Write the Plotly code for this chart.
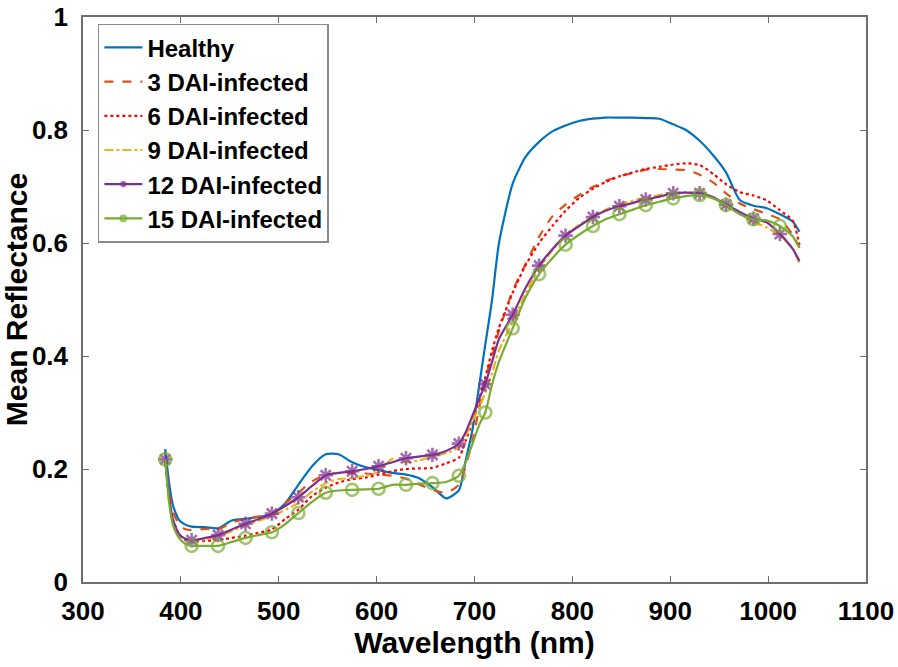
import plotly.graph_objects as go

wavelength = [384, 388, 392, 398, 404, 411, 425, 438, 452, 466, 479, 493, 507, 520, 534, 548, 561, 575,
              589, 602, 616, 630, 643, 657, 671, 684, 691, 698, 705, 711, 718, 725, 739, 752, 766, 780,
              793, 807, 821, 834, 848, 862, 875, 889, 903, 916, 930, 944, 957, 971, 985, 998, 1012, 1025, 1032]

marker_wavelengths = [384, 411, 438, 466, 493, 520, 548, 575, 602, 630, 657, 684, 711, 739, 766, 793,
                      821, 848, 875, 903, 930, 957, 985, 1012]

healthy = [0.235, 0.175, 0.135, 0.110, 0.102, 0.098, 0.097, 0.095, 0.109, 0.112, 0.115, 0.120, 0.140, 0.172,
           0.205, 0.226, 0.226, 0.212, 0.203, 0.198, 0.193, 0.190, 0.184, 0.168, 0.148, 0.162, 0.215, 0.270,
           0.350, 0.420, 0.500, 0.600, 0.705, 0.752, 0.779, 0.798, 0.808, 0.816, 0.820, 0.822, 0.822, 0.822,
           0.821, 0.820, 0.810, 0.800, 0.781, 0.755, 0.725, 0.676, 0.666, 0.662, 0.651, 0.638, 0.620]

dai3 = [0.217, 0.160, 0.125, 0.102, 0.094, 0.092, 0.094, 0.093, 0.105, 0.112, 0.116, 0.121, 0.140, 0.158,
        0.178, 0.190, 0.193, 0.193, 0.192, 0.190, 0.188, 0.183, 0.173, 0.163, 0.158, 0.172, 0.205, 0.250,
        0.310, 0.360, 0.400, 0.445, 0.515, 0.562, 0.611, 0.648, 0.668, 0.685, 0.699, 0.710, 0.718, 0.724,
        0.730, 0.731, 0.730, 0.729, 0.721, 0.707, 0.688, 0.670, 0.660, 0.652, 0.642, 0.615, 0.592]

dai6 = [0.217, 0.150, 0.110, 0.085, 0.075, 0.072, 0.073, 0.074, 0.078, 0.082, 0.087, 0.093, 0.112, 0.128,
        0.152, 0.167, 0.176, 0.182, 0.185, 0.190, 0.196, 0.200, 0.201, 0.202, 0.210, 0.220, 0.250, 0.283,
        0.325, 0.362, 0.410, 0.450, 0.512, 0.560, 0.600, 0.631, 0.657, 0.680, 0.696, 0.708, 0.718, 0.725,
        0.731, 0.735, 0.739, 0.741, 0.738, 0.722, 0.704, 0.690, 0.684, 0.676, 0.658, 0.640, 0.597]

dai9 = [0.217, 0.145, 0.105, 0.082, 0.075, 0.072, 0.076, 0.080, 0.090, 0.100, 0.108, 0.117, 0.128, 0.140,
        0.160, 0.175, 0.182, 0.184, 0.188, 0.195, 0.218, 0.212, 0.215, 0.222, 0.228, 0.238, 0.258, 0.285,
        0.310, 0.335, 0.370, 0.410, 0.460, 0.510, 0.555, 0.588, 0.613, 0.632, 0.648, 0.659, 0.668, 0.675,
        0.680, 0.685, 0.689, 0.690, 0.688, 0.680, 0.665, 0.652, 0.637, 0.628, 0.613, 0.590, 0.564]

dai12 = [0.217, 0.150, 0.110, 0.085, 0.077, 0.074, 0.078, 0.083, 0.093, 0.103, 0.111, 0.121, 0.135, 0.150,
         0.170, 0.189, 0.193, 0.196, 0.200, 0.205, 0.212, 0.219, 0.222, 0.225, 0.232, 0.245, 0.265, 0.295,
         0.325, 0.350, 0.390, 0.430, 0.473, 0.520, 0.560, 0.590, 0.613, 0.630, 0.646, 0.657, 0.665, 0.671,
         0.677, 0.682, 0.688, 0.689, 0.688, 0.681, 0.668, 0.655, 0.643, 0.637, 0.616, 0.590, 0.568]

dai15 = [0.217, 0.140, 0.100, 0.078, 0.068, 0.064, 0.064, 0.064, 0.071, 0.078, 0.083, 0.088, 0.103, 0.122,
         0.142, 0.158, 0.162, 0.163, 0.164, 0.165, 0.172, 0.172, 0.174, 0.175, 0.177, 0.188, 0.212, 0.245,
         0.279, 0.300, 0.350, 0.390, 0.449, 0.503, 0.545, 0.574, 0.597, 0.615, 0.630, 0.642, 0.651, 0.659,
         0.667, 0.673, 0.679, 0.683, 0.685, 0.679, 0.667, 0.651, 0.642, 0.640, 0.630, 0.612, 0.591]

series_names = ["Healthy", "3 DAI-infected", "6 DAI-infected", "9 DAI-infected", "12 DAI-infected", "15 DAI-infected"]
series_values = [healthy, dai3, dai6, dai9, dai12, dai15]

x_ticks = [300, 400, 500, 600, 700, 800, 900, 1000, 1100]
y_ticks = [0, 0.2, 0.4, 0.6, 0.8, 1]
y_ticklabels = ["0", "0.2", "0.4", "0.6", "0.8", "1"]

colors = ["#0072BD", "#D95319", "#FF0000", "#EDB120", "#7E2F8E", "#77AC30"]
dashes = ["solid", "dash", "dot", "dashdot", "solid", "solid"]
symbols = [None, None, None, None, "asterisk-open", "circle-open"]

FONT = "Liberation Sans, Arial, sans-serif"

fig = go.Figure()
for name, vals, col, dsh, sym in zip(series_names, series_values, colors, dashes, symbols):
    line = dict(color=col, width=2.2, dash=dsh, shape="spline", smoothing=0.6)
    if sym is None:
        fig.add_trace(go.Scatter(x=wavelength, y=vals, name=name, mode="lines", line=line))
    else:
        sizes = [12 if w in marker_wavelengths else 0 for w in wavelength]
        fig.add_trace(go.Scatter(x=wavelength, y=vals, name=name, mode="lines+markers", line=line,
                                 marker=dict(symbol=sym, size=sizes, color=col,
                                             line=dict(color=col, width=2.6))))

axis_common = dict(showline=True, linecolor="#6e6e6e", linewidth=1.5, mirror="ticks",
                   ticks="inside", ticklen=6, tickcolor="#6e6e6e", showgrid=False, zeroline=False,
                   automargin=False, ticklabeloverflow="allow",
                   tickfont=dict(family=FONT, size=26, color="black", weight="bold"))

fig.update_layout(
    width=898, height=667,
    margin=dict(l=83, r=32, t=17, b=85),
    paper_bgcolor="white", plot_bgcolor="white",
    showlegend=True,
    legend=dict(x=0.019, y=0.988, xanchor="left", yanchor="top",
                bgcolor="white", bordercolor="#8a8a8a", borderwidth=1.5,
                font=dict(family=FONT, size=24, color="black", weight="bold"),
                itemwidth=38, tracegroupgap=0),
    xaxis=dict(range=[300, 1100], tickmode="array", tickvals=x_ticks,
               title=dict(text="Wavelength (nm)", standoff=6,
                          font=dict(family=FONT, size=30, color="black", weight="bold")),
               ticklabelstandoff=5, **axis_common),
    yaxis=dict(range=[0, 1], tickmode="array", tickvals=y_ticks, ticktext=y_ticklabels,
               title=dict(text="Mean Reflectance", standoff=2,
                          font=dict(family=FONT, size=30, color="black", weight="bold")),
               ticklabelstandoff=8, **axis_common),
)

fig.write_html("out.html", config={"displayModeBar": False},
               post_script="document.body.style.margin='0';document.body.style.padding='0';")
